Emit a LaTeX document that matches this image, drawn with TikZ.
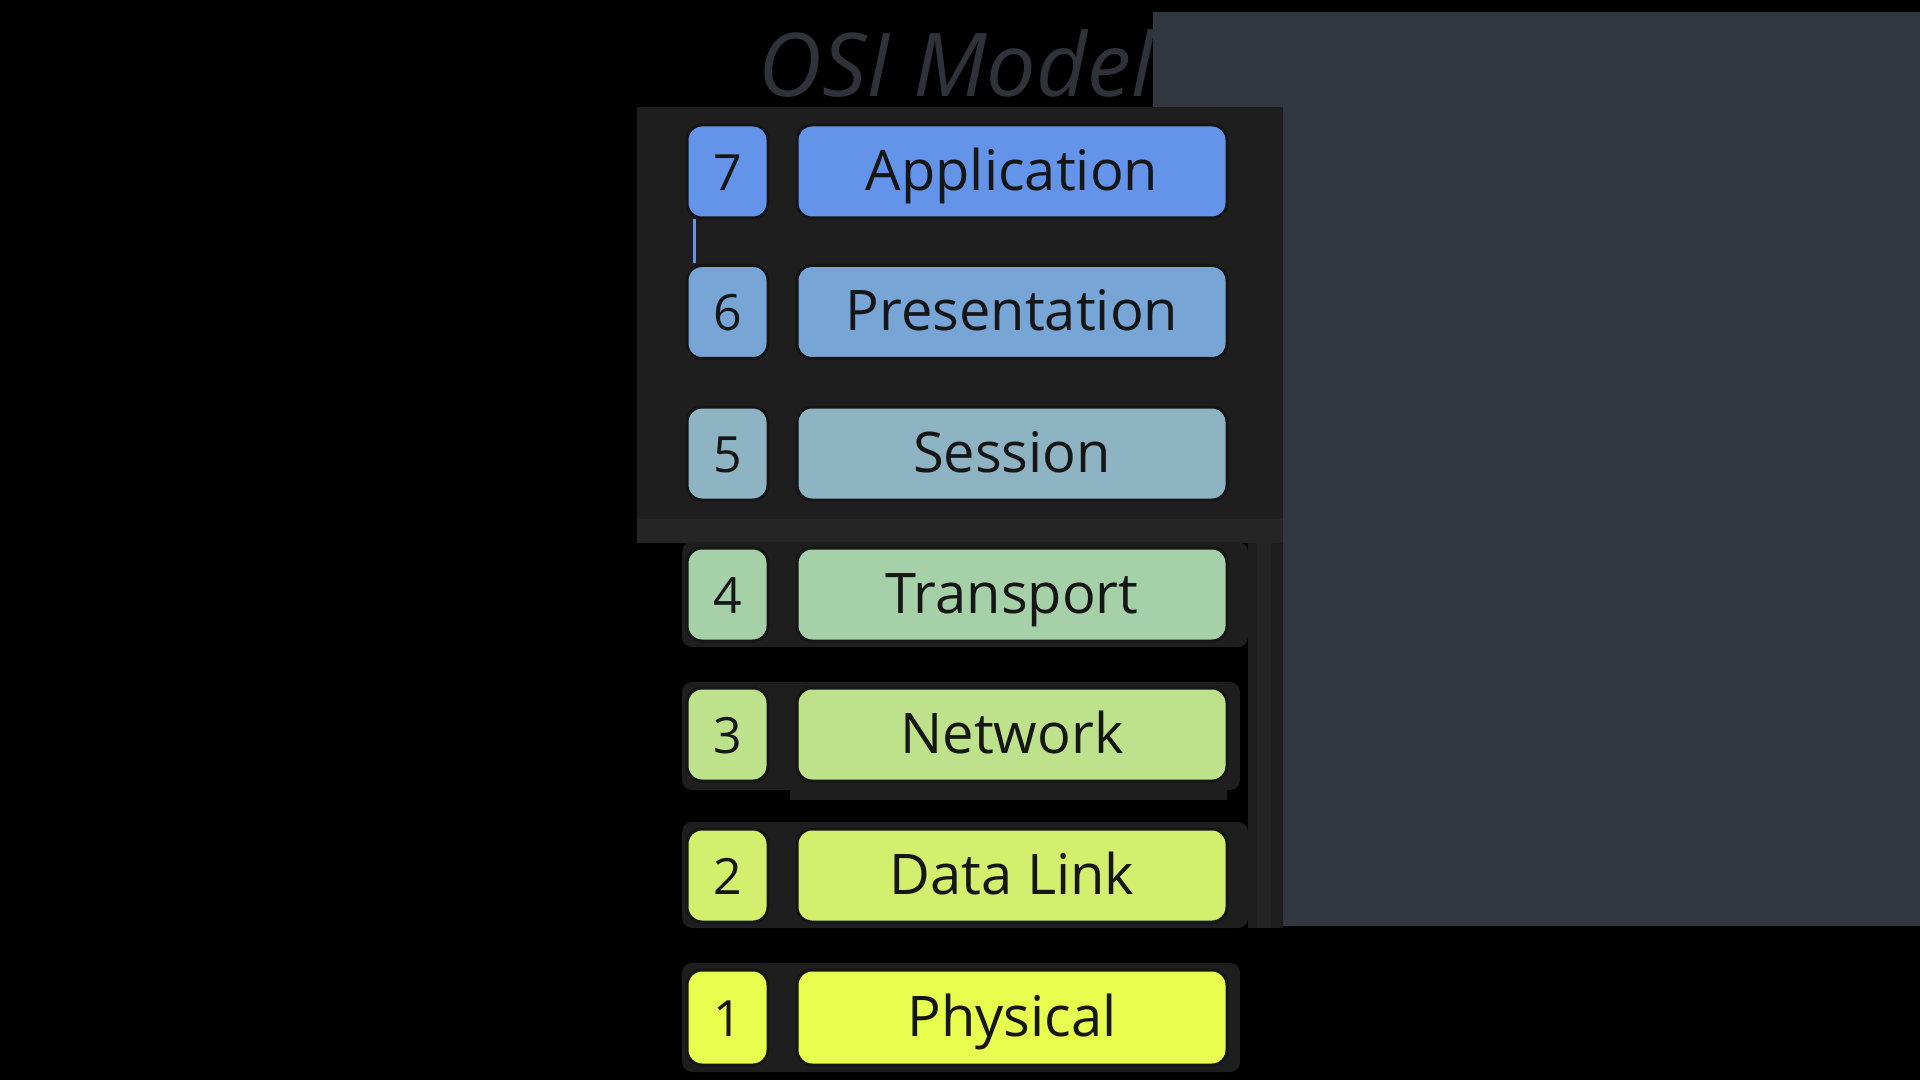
\documentclass[tikz,border=0pt]{standalone}
\usepackage{fontspec}
\setmainfont{Open Sans}
\definecolor{slate}{HTML}{32363E}
\definecolor{panel}{HTML}{1E1E1E}
\definecolor{panelstrip}{HTML}{252525}
\definecolor{titlecol}{HTML}{2F3238}
\definecolor{inkcol}{HTML}{161616}
\definecolor{c7}{HTML}{6394EA}
\definecolor{c6}{HTML}{77A5D6}
\definecolor{c5}{HTML}{8EB3C2}
\definecolor{c4}{HTML}{A5D0A8}
\definecolor{c3}{HTML}{BEE28C}
\definecolor{c2}{HTML}{D4EE6E}
\definecolor{c1}{HTML}{E8FE4E}
\tikzset{
  layerbox/.style={draw=inkcol, line width=1.5pt, rounded corners=7.5pt,
    minimum height=46.5pt, inner sep=0pt, text=inkcol,
    text height=19pt, text depth=0pt},
  numbox/.style={layerbox, minimum width=40.5pt, font=\fontsize{25}{25}\selectfont},
  labelbox/.style={layerbox, minimum width=215pt, font=\fontsize{28}{28}\selectfont},
  halo/.style={fill=panel, rounded corners=5pt},
  titletext/.style={text=titlecol, font=\fontsize{44}{44}\selectfont\itshape, inner sep=0pt}
}
\begin{document}
\begin{tikzpicture}[x=0.5pt,y=-0.5pt]
\useasboundingbox (0,0) rectangle (1920,1080);
\fill[black] (0,0) rectangle (1920,1080);
\fill[slate] (1153,12) rectangle (1920,107);
\fill[slate] (1283,107) rectangle (1920,926);
% upper frame around layers 7-5
\fill[panel] (637,107) rectangle (1283,543);
\fill[panelstrip] (637,519) rectangle (1283,543);
\fill[panel] (1248,543) rectangle (1283,928);
\fill[panelstrip] (1257,543) rectangle (1271,928);
% halos of the lower layers
\fill[halo] (682,542) rectangle (1248,647);
\fill[halo] (682,682) rectangle (1240,790);
\fill[panel] (790,781) rectangle (1227,800);
\fill[halo] (682,822) rectangle (1248,928);
\fill[halo] (682,963) rectangle (1240,1072);
% title
\node[titletext] (title) at (956,64) {OSI Model};
% layers
\node[numbox, fill=c7] (n7) at (727.5,171.5) {7};
\node[labelbox, fill=c7] (l7) at (1012,171.5) {Application};
\draw[c7, line width=1.2pt] (n7.south) ++(-33,0) coordinate (b7) -- ++(0,44);
\node[numbox, fill=c6] (n6) at (727.5,312) {6};
\node[labelbox, fill=c6] (l6) at (1012,312) {Presentation};
\node[numbox, fill=c5] (n5) at (727.5,453.5) {5};
\node[labelbox, fill=c5] (l5) at (1012,453.5) {Session};
\node[numbox, fill=c4] (n4) at (727.5,594.5) {4};
\node[labelbox, fill=c4] (l4) at (1012,594.5) {Transport};
\node[numbox, fill=c3] (n3) at (727.5,734.5) {3};
\node[labelbox, fill=c3] (l3) at (1012,734.5) {Network};
\node[numbox, fill=c2] (n2) at (727.5,875.5) {2};
\node[labelbox, fill=c2] (l2) at (1012,875.5) {Data Link};
\node[numbox, fill=c1, minimum height=47.5pt] (n1) at (727.5,1017.5) {1};
\node[labelbox, fill=c1, minimum height=47.5pt] (l1) at (1012,1017.5) {Physical};
\end{tikzpicture}
\end{document}
